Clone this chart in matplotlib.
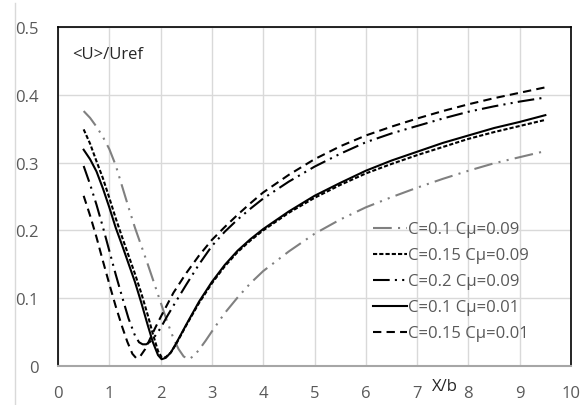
import matplotlib
matplotlib.use("Agg")
import matplotlib.pyplot as plt
from matplotlib.lines import Line2D

plt.rcParams['font.family'] = ['Open Sans', 'DejaVu Sans']

labels = ["C=0.1 Cμ=0.09", "C=0.15 Cμ=0.09", "C=0.2 Cμ=0.09",
          "C=0.1 Cμ=0.01", "C=0.15 Cμ=0.01"]

x1 = [0.5, 0.625, 0.75, 0.875, 1.0, 1.125, 1.25, 1.375, 1.5, 1.625, 1.75, 1.875,
      2.0, 2.125, 2.25, 2.35, 2.45, 2.55, 2.65, 2.75, 2.875, 3.0, 3.25, 3.5, 3.75,
      4.0, 4.5, 5.0, 5.5, 6.0, 6.5, 7.0, 7.5, 8.0, 8.5, 9.0, 9.5]
y1 = [0.376, 0.366, 0.353, 0.338, 0.320, 0.296, 0.265, 0.234, 0.204, 0.177, 0.150,
      0.122, 0.094, 0.066, 0.041, 0.025, 0.014, 0.010, 0.015, 0.024, 0.037, 0.051,
      0.078, 0.101, 0.122, 0.140, 0.169, 0.195, 0.216, 0.234, 0.249, 0.263, 0.276,
      0.288, 0.299, 0.308, 0.317]

x2 = [0.5, 0.625, 0.75, 0.875, 1.0, 1.125, 1.25, 1.375, 1.5, 1.625, 1.75, 1.85,
      1.95, 2.02, 2.1, 2.2, 2.3, 2.4, 2.5, 2.75, 3.0, 3.25, 3.5, 3.75, 4.0, 4.5,
      5.0, 5.5, 6.0, 6.5, 7.0, 7.5, 8.0, 8.5, 9.0, 9.5]
y2 = [0.349, 0.328, 0.302, 0.277, 0.248, 0.218, 0.190, 0.163, 0.136, 0.107, 0.075,
      0.047, 0.022, 0.013, 0.013, 0.020, 0.032, 0.046, 0.060, 0.093, 0.122, 0.147,
      0.168, 0.185, 0.200, 0.226, 0.248, 0.267, 0.284, 0.298, 0.311, 0.323, 0.335,
      0.345, 0.354, 0.363]

x3 = [0.5, 0.625, 0.75, 0.875, 1.0, 1.125, 1.25, 1.375, 1.5, 1.58, 1.65, 1.72,
      1.8, 1.9, 2.0, 2.125, 2.25, 2.5, 2.75, 3.0, 3.25, 3.5, 3.75, 4.0, 4.5, 5.0,
      5.5, 6.0, 6.5, 7.0, 7.5, 8.0, 8.5, 9.0, 9.5]
y3 = [0.295, 0.268, 0.238, 0.205, 0.170, 0.135, 0.102, 0.070, 0.045, 0.035, 0.032,
      0.032, 0.036, 0.045, 0.056, 0.073, 0.089, 0.120, 0.150, 0.177, 0.198, 0.216,
      0.232, 0.247, 0.272, 0.294, 0.313, 0.330, 0.343, 0.354, 0.365, 0.375, 0.383,
      0.390, 0.396]

x4 = [0.5, 0.625, 0.75, 0.875, 1.0, 1.125, 1.25, 1.375, 1.5, 1.625, 1.75, 1.85,
      1.95, 2.02, 2.1, 2.2, 2.3, 2.4, 2.5, 2.75, 3.0, 3.25, 3.5, 3.75, 4.0, 4.5,
      5.0, 5.5, 6.0, 6.5, 7.0, 7.5, 8.0, 8.5, 9.0, 9.5]
y4 = [0.319, 0.305, 0.287, 0.262, 0.234, 0.204, 0.178, 0.151, 0.124, 0.093, 0.060,
      0.035, 0.016, 0.010, 0.012, 0.020, 0.033, 0.047, 0.061, 0.095, 0.124, 0.149,
      0.170, 0.187, 0.202, 0.228, 0.251, 0.270, 0.288, 0.303, 0.316, 0.329, 0.340,
      0.351, 0.360, 0.370]

x5 = [0.5, 0.625, 0.75, 0.875, 1.0, 1.125, 1.25, 1.35, 1.45, 1.52, 1.6, 1.7, 1.8,
      1.9, 2.0, 2.125, 2.25, 2.5, 2.75, 3.0, 3.25, 3.5, 3.75, 4.0, 4.5, 5.0, 5.5,
      6.0, 6.5, 7.0, 7.5, 8.0, 8.5, 9.0, 9.5]
y5 = [0.251, 0.222, 0.190, 0.155, 0.121, 0.088, 0.058, 0.036, 0.018, 0.012, 0.014,
      0.025, 0.041, 0.057, 0.072, 0.090, 0.108, 0.137, 0.163, 0.186, 0.205, 0.223,
      0.240, 0.256, 0.282, 0.305, 0.324, 0.340, 0.353, 0.365, 0.376, 0.386, 0.395,
      0.403, 0.411]

xticks = [0, 1, 2, 3, 4, 5, 6, 7, 8, 9, 10]
yticks = [0, 0.1, 0.2, 0.3, 0.4, 0.5]
ytick_labels = ["0", "0.1", "0.2", "0.3", "0.4", "0.5"]

fs = 12
fig = plt.figure(figsize=(5.85, 4.06), dpi=100)
ax = fig.add_axes([58/585, 1-367/406, (571-58)/585, (367-28)/406])

lw = 1.5
ax.plot(x1, y1, color="#808080", lw=lw, dashes=[9, 3, 1, 3, 1, 3], label=labels[0])
ax.plot(x2, y2, color="black", lw=lw, dashes=[2, 1], label=labels[1])
ax.plot(x3, y3, color="black", lw=lw, dashes=[8, 2.5, 1, 2.5, 1, 2.5], label=labels[2])
ax.plot(x4, y4, color="black", lw=lw, label=labels[3])
ax.plot(x5, y5, color="black", lw=lw, dashes=[4, 2.5], label=labels[4])

ax.set_xlim(0, 10)
ax.set_ylim(0, 0.5)
ax.set_xticks(xticks)
ax.set_yticks(yticks)
ax.set_yticklabels(ytick_labels)
ax.tick_params(length=0, labelsize=fs, labelcolor="#595959")
ax.tick_params(axis="x", pad=14)
ax.tick_params(axis="y", pad=14)
ax.grid(True, color="#d9d9d9", lw=1)
ax.set_axisbelow(True)

for s in ["top", "right", "left"]:
    ax.spines[s].set_color("black")
    ax.spines[s].set_linewidth(1.2)
ax.spines["bottom"].set_color("#a6a6a6")
ax.spines["bottom"].set_linewidth(1.5)

ax.text(0.27, 0.46, "<U>/Uref", fontsize=fs, color="#262626", va="center", ha="left")
ax.text(7.54, -0.058, "X/b", fontsize=fs, color="#262626", va="center", ha="center",
        transform=ax.get_xaxis_transform())

leg = ax.legend(loc="upper left", bbox_to_anchor=(0.614, 0.4266), frameon=False,
                fontsize=fs, handlelength=2.04, handletextpad=0.05, labelspacing=0.6,
                borderpad=0, borderaxespad=0)
for t in leg.get_texts():
    t.set_color("#595959")

fig.add_artist(Line2D([15/585, 15/585], [0, 1-4/406], color="#d9d9d9", lw=1,
                      transform=fig.transFigure))

fig.savefig("out.png", dpi=100)
